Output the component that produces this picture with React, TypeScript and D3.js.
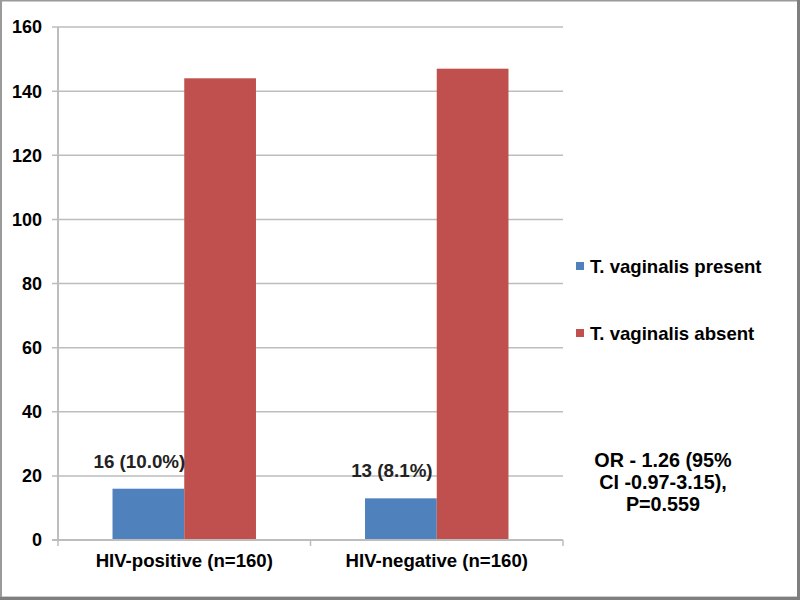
import React from "react";
import * as d3 from "d3";

const categories = ["HIV-positive (n=160)", "HIV-negative (n=160)"];
const seriesNames = ["T. vaginalis present", "T. vaginalis absent"];
const presentValues = [16, 13];
const absentValues = [144, 147];
const presentLabels = ["16 (10.0%)", "13 (8.1%)"];
const yTicks = [0, 20, 40, 60, 80, 100, 120, 140, 160];
const noteLines = ["OR - 1.26 (95%", "CI -0.97-3.15),", "P=0.559"];
const colors = ["#4f81bd", "#c0504d"];

export default function App() {
  const W = 800, H = 600;
  const left = 58, right = 563, top = 27, bottom = 540;
  const y = d3.scaleLinear().domain([0, 160]).range([bottom, top]);
  const x0 = d3.scaleBand<string>().domain(categories).range([left, right]).padding(0);
  const x1 = d3
    .scaleBand<string>()
    .domain(seriesNames)
    .range([0, x0.bandwidth()])
    .paddingInner(0)
    .paddingOuter(0.76);
  const seriesValues = [presentValues, absentValues];
  const font = "Liberation Sans, Arial, sans-serif";
  const gridColor = "#bdbdbd";

  return (
    <svg
      width={W}
      height={H}
      style={{ position: "absolute", left: 0, top: 0, background: "#fff" }}
      fontFamily={font}
    >
      <rect x={0} y={0} width={W} height={H} fill="#fff" />
      {yTicks.map((t) => (
        <g key={t}>
          <line x1={52} x2={right} y1={y(t)} y2={y(t)} stroke={gridColor} strokeWidth={1.5} />
          <text
            x={42}
            y={y(t)}
            dy="0.36em"
            textAnchor="end"
            fontSize={18}
            fontWeight="bold"
            fill="#000"
          >
            {t}
          </text>
        </g>
      ))}
      <line x1={left} x2={left} y1={top} y2={bottom} stroke={gridColor} strokeWidth={2} />
      {categories.map((c, i) => (
        <g key={c} transform={`translate(${x0(c)},0)`}>
          {seriesNames.map((s, j) => (
            <rect
              key={s}
              x={x1(s)}
              y={y(seriesValues[j][i])}
              width={x1.bandwidth()}
              height={y(0) - y(seriesValues[j][i])}
              fill={colors[j]}
            />
          ))}
          <text
            x={(x1(seriesNames[0]) as number) + x1.bandwidth() / 2 - 9}
            y={y(presentValues[i]) - 21}
            textAnchor="middle"
            fontSize={18.8}
            fontWeight="bold"
            fill="#222"
          >
            {presentLabels[i]}
          </text>
        </g>
      ))}
      <line x1={52} x2={right} y1={bottom} y2={bottom} stroke={gridColor} strokeWidth={2} />
      {[left, ...categories.map((c) => (x0(c) as number) + x0.bandwidth())].map((v, i) => (
        <line key={i} x1={v} x2={v} y1={bottom} y2={bottom + 6} stroke={gridColor} strokeWidth={1.5} />
      ))}
      {categories.map((c) => (
        <text
          key={c}
          x={(x0(c) as number) + x0.bandwidth() / 2}
          y={567}
          textAnchor="middle"
          fontSize={18.6}
          fontWeight="bold"
          fill="#000"
        >
          {c}
        </text>
      ))}
      {seriesNames.map((s, j) => (
        <g key={s} transform={`translate(576,${266 + j * 67})`}>
          <rect x={0} y={-4} width={8} height={8} fill={colors[j]} />
          <text x={14} y={0} dy="0.36em" fontSize={18.6} fontWeight="bold" fill="#000">
            {s}
          </text>
        </g>
      ))}
      {noteLines.map((l, i) => (
        <text
          key={i}
          x={663}
          y={466.5 + i * 22}
          textAnchor="middle"
          fontSize={19.8}
          fontWeight="bold"
          fill="#000"
        >
          {l}
        </text>
      ))}
      <rect x={1} y={0.5} width={W - 3} height={H - 3} fill="none" stroke="#9a9a9a" strokeWidth={2} />
      <line x1={W - 1.5} x2={W - 1.5} y1={0} y2={H} stroke="#7f7f7f" strokeWidth={3} />
      <line x1={0} x2={W} y1={H - 1.5} y2={H - 1.5} stroke="#7f7f7f" strokeWidth={3} />
    </svg>
  );
}
